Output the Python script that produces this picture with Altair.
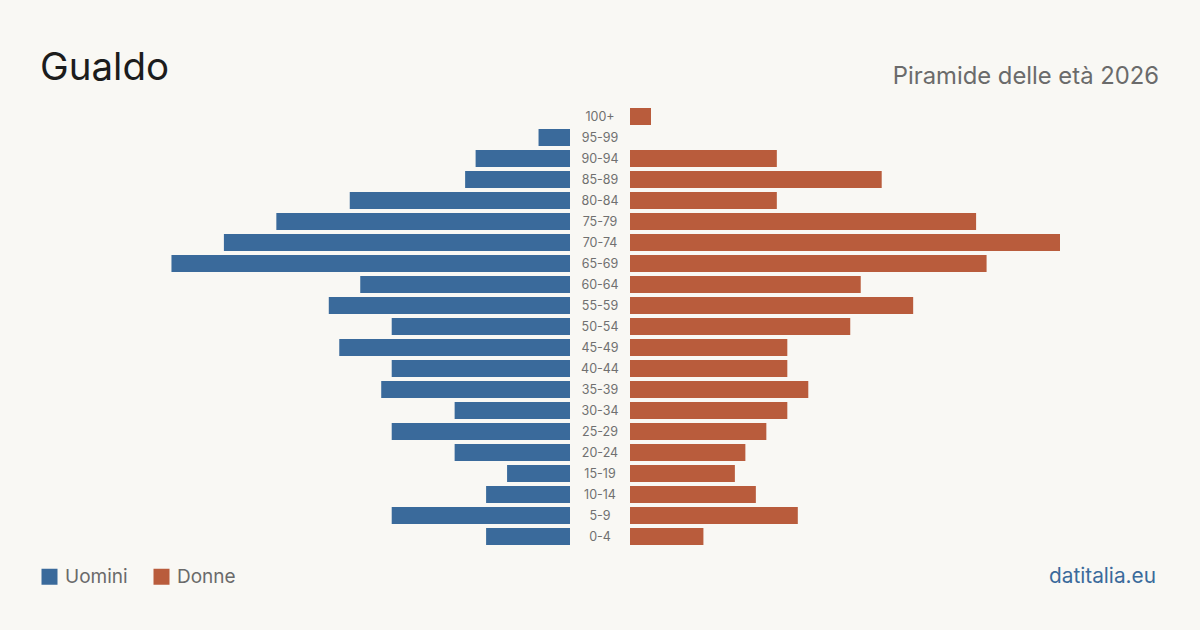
import altair as alt
import pandas as pd

# Age classes, top of the pyramid first
ages = ["100+", "95-99", "90-94", "85-89", "80-84", "75-79", "70-74", "65-69",
        "60-64", "55-59", "50-54", "45-49", "40-44", "35-39", "30-34", "25-29",
        "20-24", "15-19", "10-14", "5-9", "0-4"]
uomini = [0, 3, 9, 10, 21, 28, 33, 38, 20, 23, 17, 22, 17, 18, 11, 17, 11, 6, 8, 17, 8]
donne = [2, 0, 14, 24, 14, 33, 41, 34, 22, 27, 21, 15, 15, 17, 15, 13, 11, 10, 12, 16, 7]

comune = "Gualdo"
sottotitolo = "Piramide delle età 2026"
fonte = "datitalia.eu"

BG = "#f9f8f4"
BLUE = "#3a6a9b"
RED = "#b95c3c"
FONT = "Inter"

rows = []
for a, m, f in zip(ages, uomini, donne):
    rows.append({"eta": a, "sesso": "Uomini", "n": m})
    rows.append({"eta": a, "sesso": "Donne", "n": f})
df = pd.DataFrame(rows)

x_max = max(max(uomini), max(donne))

y_scale = alt.Scale(domain=ages, range=[106, 547], paddingInner=4 / 21, paddingOuter=2 / 21)
y_enc = alt.Y("eta:N", scale=y_scale, axis=None, sort=ages)

color = alt.Color(
    "sesso:N",
    scale=alt.Scale(domain=["Uomini", "Donne"], range=[BLUE, RED]),
    legend=alt.Legend(
        orient="none", legendX=40, legendY=567, direction="horizontal", title=None,
        symbolType="square", symbolSize=256, symbolStrokeWidth=0, symbolOpacity=1,
        labelFont=FONT, labelFontSize=19, labelColor="#6a6a6a", labelOffset=6,
        columnPadding=24, padding=0,
    ),
)

base = alt.Chart(df)

left = base.transform_filter(alt.datum.sesso == "Uomini").mark_bar().encode(
    x=alt.X("n:Q", scale=alt.Scale(domain=[0, x_max], range=[570, 140], nice=False), axis=None),
    y=y_enc,
    color=color,
)

right = base.transform_filter(alt.datum.sesso == "Donne").mark_bar().encode(
    x=alt.X("n:Q", scale=alt.Scale(domain=[0, x_max], range=[630, 1060], nice=False), axis=None),
    y=y_enc,
    color=color,
)

labels = alt.Chart(pd.DataFrame({"eta": ages})).mark_text(
    font=FONT, fontSize=12.5, color="#707070", align="center", baseline="middle"
).encode(
    x=alt.value(600),
    y=y_enc,
    text="eta:N",
)

one = pd.DataFrame({"t": [0]})

title_txt = alt.Chart(one).mark_text(
    text=comune, font=FONT, fontSize=38.5, color="#1c1c1c", align="left", baseline="alphabetic"
).encode(x=alt.value(40), y=alt.value(80))

subtitle_txt = alt.Chart(one).mark_text(
    text=sottotitolo, font=FONT, fontSize=23.8, color="#6b6b6b", align="right", baseline="alphabetic"
).encode(x=alt.value(1159), y=alt.value(84))

source_txt = alt.Chart(one).mark_text(
    text=fonte, font=FONT, fontSize=20.8, color=BLUE, align="right", baseline="alphabetic"
).encode(x=alt.value(1156), y=alt.value(583))

chart = (
    alt.layer(left, right, labels, title_txt, subtitle_txt, source_txt)
    .resolve_scale(x="independent")
    .properties(width=1200, height=630, background=BG, padding=0, autosize="none")
    .configure_view(stroke=None)
)

chart.save("out.html", embed_options={"renderer": "svg", "actions": False})
